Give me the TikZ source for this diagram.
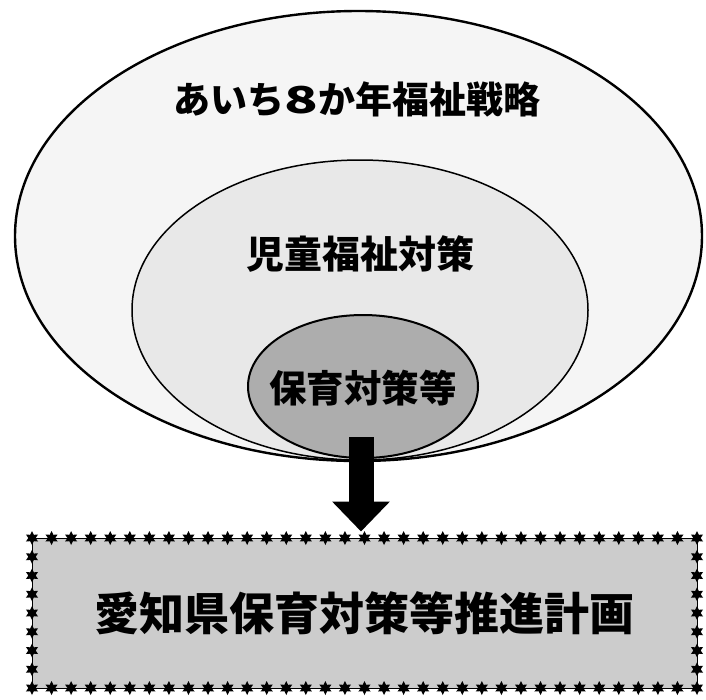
\documentclass[tikz,border=0pt]{standalone}
\usepackage{graphicx}
\usepackage{fontspec}
\newfontfamily\cjk{Noto Sans CJK JP}
\usetikzlibrary{shapes.geometric,arrows.meta}
\begin{document}
\begin{tikzpicture}[x=1pt,y=-1pt,
  ring/.style={ellipse, draw=black, inner sep=0pt},
  lbl/.style={font=\cjk\bfseries\fontsize{#1}{#1}\selectfont, inner sep=0pt},
  starmark/.style={star, star points=6, star point ratio=1.9, fill=black, inner sep=0pt, minimum size=14pt}]
\useasboundingbox (0,0) rectangle (706,699);
% ellipses
\node[ring, line width=2.4pt, fill=black!4, minimum width=687pt, minimum height=450pt] (outer) at (358.5,236) {};
\node[ring, line width=1.5pt, fill=black!9, minimum width=456pt, minimum height=300pt] (middle) at (360,310) {};
\node[ring, line width=2pt, fill=black!32, minimum width=230pt, minimum height=143pt] (inner) at (363,386.5) {};
% labels
\node[lbl=37] (t1) at (357,99) {あいち\scalebox{1.5}[1]{8}か年福祉戦略};
\node[lbl=38] (t2) at (360,254) {児童福祉対策};
\node[lbl=37.5] (t3) at (363,388) {保育対策等};
% bottom box
\node[draw=black, line width=1pt, fill=black!20, minimum width=665pt, minimum height=150pt, inner sep=0pt, lbl=45] (box) at (364.5,613) {愛知県保育対策等推進計画};
\foreach \i in {0,...,34} {
  \pgfmathsetmacro\sx{32+\i*19.5588}
  \node[starmark] (st\i) at (\sx,538) {};
  \node[starmark] (sb\i) at (\sx,688) {};
}
\foreach \j in {1,...,7} {
  \pgfmathsetmacro\sy{538+\j*18.75}
  \node[starmark] (sl\j) at (32,\sy) {};
  \node[starmark] (sr\j) at (697,\sy) {};
}
% arrow
\coordinate (ashaft) at (361,437);
\draw[line width=25pt, -{Triangle[width=56pt,length=30pt]}, shorten >=6pt] (ashaft) -- (ashaft |- box.north);
\end{tikzpicture}
\end{document}
